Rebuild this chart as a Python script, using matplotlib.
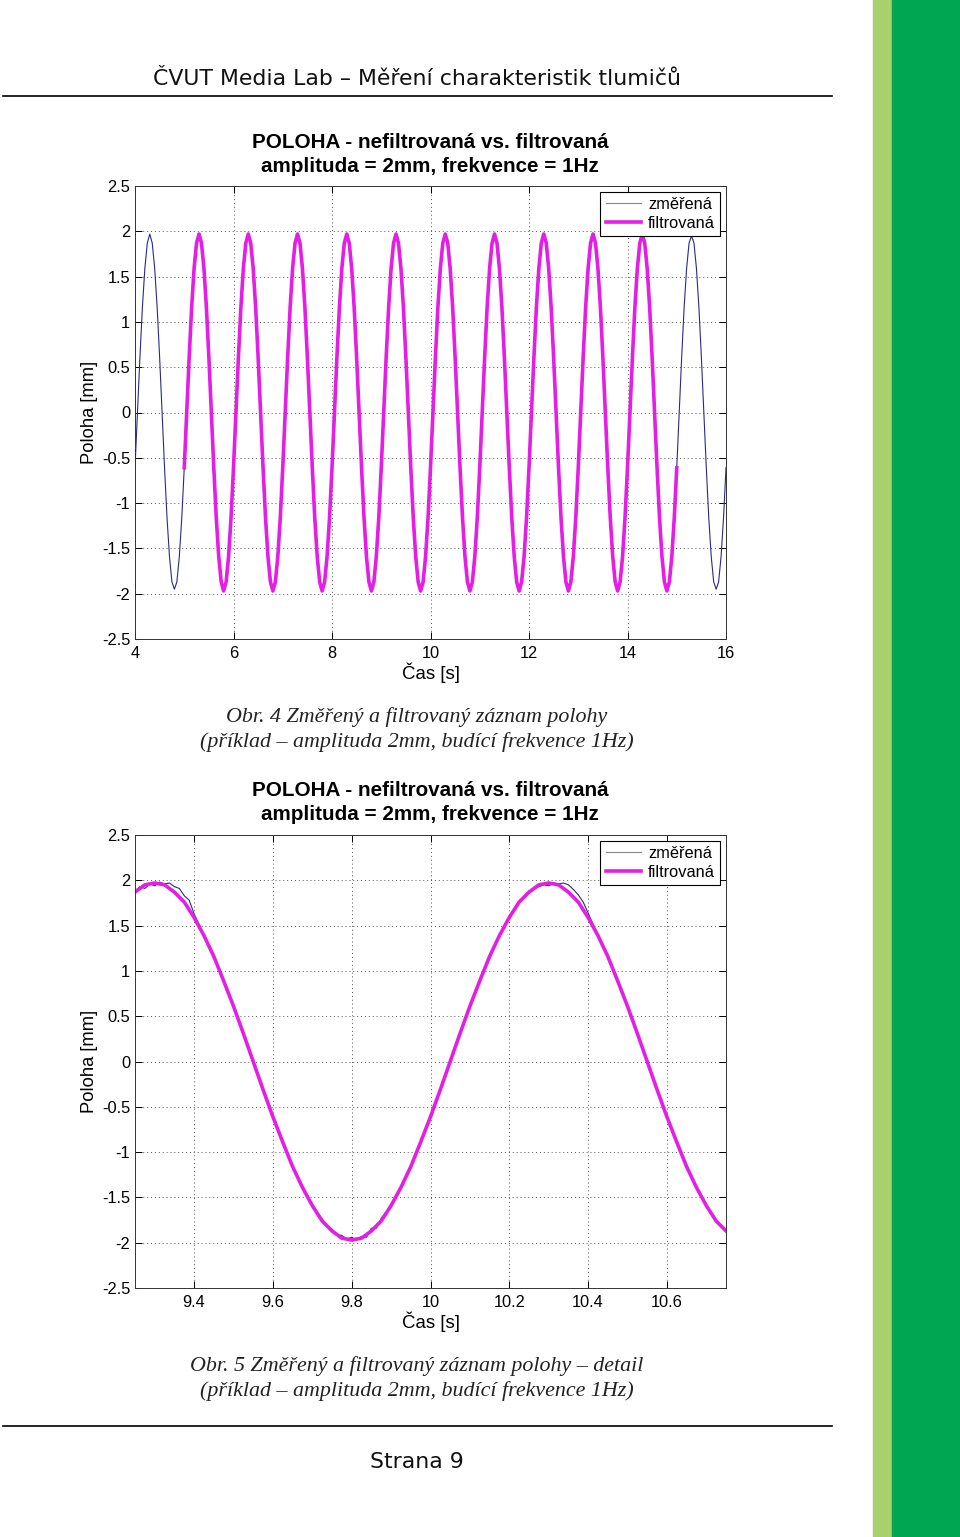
import numpy as np
import matplotlib
matplotlib.use('Agg')
import matplotlib.pyplot as plt

# --- data ---
# Obr. 4: measured position, sampled every 0.05 s from 4.00 s to 16.00 s (one row per second)
poloha_zmerena = [
    -0.61, 0.00, 0.61, 1.16, 1.59, 1.87, 1.97, 1.87, 1.59, 1.16, 0.61, 0.00, -0.61, -1.16, -1.59, -1.87, -1.95, -1.87, -1.59, -1.16,
    -0.61, 0.00, 0.61, 1.16, 1.59, 1.87, 1.97, 1.87, 1.59, 1.16, 0.61, 0.00, -0.61, -1.16, -1.59, -1.87, -1.97, -1.87, -1.59, -1.16,
    -0.61, 0.00, 0.61, 1.16, 1.59, 1.87, 1.97, 1.87, 1.59, 1.16, 0.61, 0.00, -0.61, -1.16, -1.59, -1.87, -1.97, -1.87, -1.59, -1.16,
    -0.61, 0.00, 0.61, 1.16, 1.59, 1.87, 1.97, 1.87, 1.59, 1.16, 0.61, 0.00, -0.61, -1.16, -1.59, -1.87, -1.97, -1.87, -1.59, -1.16,
    -0.61, 0.00, 0.61, 1.16, 1.59, 1.87, 1.97, 1.87, 1.59, 1.16, 0.61, 0.00, -0.61, -1.16, -1.59, -1.87, -1.97, -1.87, -1.59, -1.16,
    -0.61, 0.00, 0.61, 1.16, 1.59, 1.87, 1.97, 1.87, 1.59, 1.16, 0.61, 0.00, -0.61, -1.16, -1.59, -1.87, -1.97, -1.87, -1.59, -1.16,
    -0.61, 0.00, 0.61, 1.16, 1.59, 1.87, 1.97, 1.87, 1.59, 1.16, 0.61, 0.00, -0.61, -1.16, -1.59, -1.87, -1.97, -1.87, -1.59, -1.16,
    -0.61, 0.00, 0.61, 1.16, 1.59, 1.87, 1.97, 1.87, 1.59, 1.16, 0.61, 0.00, -0.61, -1.16, -1.59, -1.87, -1.97, -1.87, -1.59, -1.16,
    -0.61, 0.00, 0.61, 1.16, 1.59, 1.87, 1.97, 1.87, 1.59, 1.16, 0.61, 0.00, -0.61, -1.16, -1.59, -1.87, -1.97, -1.87, -1.59, -1.16,
    -0.61, 0.00, 0.61, 1.16, 1.59, 1.87, 1.97, 1.87, 1.59, 1.16, 0.61, 0.00, -0.61, -1.16, -1.59, -1.87, -1.97, -1.87, -1.59, -1.16,
    -0.61, 0.00, 0.61, 1.16, 1.59, 1.87, 1.97, 1.87, 1.59, 1.16, 0.61, 0.00, -0.61, -1.16, -1.59, -1.87, -1.97, -1.87, -1.59, -1.16,
    -0.61, 0.00, 0.61, 1.16, 1.59, 1.87, 1.95, 1.87, 1.59, 1.16, 0.61, 0.00, -0.61, -1.16, -1.59, -1.87, -1.95, -1.87, -1.59, -1.16,
    -0.61,
]
cas = np.arange(len(poloha_zmerena)) * 0.05 + 4.0
# filtered signal is drawn only between 5.00 s and 15.00 s, where it coincides with the measured one
poloha_filtrovana = poloha_zmerena[20:221]
cas_filtr = cas[20:221]

# Obr. 5: detail, filtered signal every 0.025 s from 9.25 s to 10.75 s
detail_filtrovana = [
    1.87, 1.95, 1.97, 1.95, 1.87, 1.76, 1.59, 1.39, 1.16, 0.89, 0.61, 0.31,
    0.00, -0.31, -0.61, -0.89, -1.16, -1.39, -1.59, -1.76, -1.87, -1.95, -1.97, -1.95,
    -1.87, -1.76, -1.59, -1.39, -1.16, -0.89, -0.61, -0.31, 0.00, 0.31, 0.61, 0.89,
    1.16, 1.39, 1.59, 1.76, 1.87, 1.95, 1.97, 1.95, 1.87, 1.76, 1.59, 1.39,
    1.16, 0.89, 0.61, 0.31, 0.00, -0.31, -0.61, -0.89, -1.16, -1.39, -1.59, -1.76, -1.87,
]
detail_cas = np.arange(len(detail_filtrovana)) * 0.025 + 9.25

# measured signal in the detail (small steps near the extremes)
detail_cas_zmer = [
    9.25, 9.2625, 9.275, 9.2875, 9.30, 9.3125, 9.325, 9.3375, 9.35, 9.3625, 9.375, 9.3875, 9.40,
    9.425, 9.45, 9.475, 9.50, 9.525, 9.55, 9.575, 9.60, 9.625, 9.65, 9.675, 9.70,
    9.725, 9.7375, 9.75, 9.7625, 9.775, 9.7875, 9.80, 9.8125, 9.825, 9.8375, 9.85, 9.8625, 9.875,
    9.90, 9.925, 9.95, 9.975, 10.00, 10.025, 10.05, 10.075, 10.10, 10.125, 10.15, 10.175, 10.20, 10.225,
    10.25, 10.2625, 10.275, 10.2875, 10.30, 10.3125, 10.325, 10.3375, 10.35, 10.3625, 10.375, 10.3875, 10.40,
    10.425, 10.45, 10.475, 10.50, 10.525, 10.55, 10.575, 10.60, 10.625, 10.65, 10.675, 10.70, 10.725, 10.75,
]
detail_zmerena = [
    1.88, 1.93, 1.91, 1.96, 1.94, 1.98, 1.96, 1.97, 1.93, 1.91, 1.83, 1.78, 1.63,
    1.39, 1.16, 0.89, 0.61, 0.31, 0.00, -0.31, -0.61, -0.89, -1.16, -1.39, -1.59,
    -1.74, -1.81, -1.85, -1.91, -1.92, -1.96, -1.94, -1.97, -1.93, -1.94, -1.84, -1.84, -1.73,
    -1.59, -1.39, -1.16, -0.89, -0.61, -0.31, 0.00, 0.31, 0.61, 0.89, 1.16, 1.39, 1.59, 1.76,
    1.86, 1.90, 1.93, 1.95, 1.94, 1.97, 1.96, 1.97, 1.95, 1.90, 1.84, 1.76, 1.64,
    1.39, 1.16, 0.89, 0.61, 0.31, 0.00, -0.31, -0.61, -0.89, -1.16, -1.39, -1.59, -1.76, -1.87,
]

nazev_1 = 'POLOHA - nefiltrovaná vs. filtrovaná'
nazev_2 = 'amplituda = 2mm, frekvence = 1Hz'
legenda = ['změřená', 'filtrovaná']

# --- figure ---
W, H = 960, 1537
fig = plt.figure(figsize=(W / 100, H / 100), dpi=100)
fig.patch.set_facecolor('white')

# green stripes on the right
fig.patches.append(plt.Rectangle((873 / W, 0), 19 / W, 1, transform=fig.transFigure,
                                 color='#a8d06c', zorder=0))
fig.patches.append(plt.Rectangle((892 / W, 0), 68 / W, 1, transform=fig.transFigure,
                                 color='#00a651', zorder=0))

# header and footer
fig.text(417 / W, 1 - 79 / H, 'ČVUT Media Lab – Měření charakteristik tlumičů',
         ha='center', va='center', fontsize=15.8, family='DejaVu Sans', color='#111111')
fig.add_artist(plt.Line2D([3 / W, 832 / W], [1 - 96 / H, 1 - 96 / H], color='black', lw=1.2))
fig.add_artist(plt.Line2D([3 / W, 832 / W], [1 - 1426 / H, 1 - 1426 / H], color='black', lw=1.2))
fig.text(417 / W, 1 - 1462 / H, 'Strana 9', ha='center', va='center', fontsize=15.8,
         family='DejaVu Sans', color='#111111')

cap_font = dict(family='Liberation Serif', style='italic', fontsize=15.8, color='#222222',
                ha='center', va='center')
fig.text(417 / W, 1 - 717 / H, 'Obr. 4 Změřený a filtrovaný záznam polohy', **cap_font)
fig.text(417 / W, 1 - 742 / H, '(příklad – amplituda 2mm, budící frekvence 1Hz)', **cap_font)
fig.text(417 / W, 1 - 1366 / H, 'Obr. 5 Změřený a filtrovaný záznam polohy – detail', **cap_font)
fig.text(417 / W, 1 - 1391 / H, '(příklad – amplituda 2mm, budící frekvence 1Hz)', **cap_font)

modra = '#2a2a8a'
magenta = '#e41ee4'


def graf(top_px, x_zm, y_zm, x_f, y_f, xlim, xticks, xlabels):
    ax = fig.add_axes([135 / W, 1 - (top_px + 453) / H, 591 / W, 453 / H])
    ax.plot(x_zm, y_zm, color=modra, lw=0.8, label=legenda[0])
    ax.plot(x_f, y_f, color=magenta, lw=2.6, label=legenda[1])
    ax.set_xlim(*xlim)
    ax.set_ylim(-2.5, 2.5)
    ax.set_xticks(xticks)
    ax.set_xticklabels(xlabels)
    ax.set_yticks(np.arange(-2.5, 2.51, 0.5))
    ax.set_yticklabels(['-2.5', '-2', '-1.5', '-1', '-0.5', '0', '0.5', '1', '1.5', '2', '2.5'])
    ax.grid(True, linestyle=(0, (1, 3)), color='#555555', lw=0.7)
    ax.tick_params(direction='in', top=True, right=True, length=5, width=0.7,
                   labelsize=11.8, pad=3.5)
    ax.tick_params(axis='x', pad=5)
    for lab in ax.get_xticklabels() + ax.get_yticklabels():
        lab.set_family('Liberation Sans')
    for s in ax.spines.values():
        s.set_linewidth(0.7)
        s.set_color('#333333')
    ax.set_xlabel('Čas [s]', family='Liberation Sans', fontsize=13.4, labelpad=1)
    ax.set_ylabel('Poloha [mm]', family='Liberation Sans', fontsize=13.2, labelpad=3)
    fig.text(430 / W, 1 - (top_px - 44) / H, nazev_1, ha='center', va='center',
             family='Liberation Sans', weight='bold', fontsize=14.9)
    fig.text(430 / W, 1 - (top_px - 20) / H, nazev_2, ha='center', va='center',
             family='Liberation Sans', weight='bold', fontsize=14.9)
    leg = ax.legend(loc='upper right', fancybox=False, framealpha=1, edgecolor='black',
                    prop={'family': 'Liberation Sans', 'size': 11.8}, handlelength=2.15,
                    borderpad=0.33, labelspacing=0.22, handletextpad=0.42,
                    borderaxespad=0.35)
    leg.get_frame().set_linewidth(0.8)
    leg.get_lines()[0].set_color('#888888')
    return ax


graf(186, cas, poloha_zmerena, cas_filtr, poloha_filtrovana, (4, 16),
     [4, 6, 8, 10, 12, 14, 16], ['4', '6', '8', '10', '12', '14', '16'])
graf(835, detail_cas_zmer, detail_zmerena, detail_cas, detail_filtrovana, (9.25, 10.75),
     [9.4, 9.6, 9.8, 10.0, 10.2, 10.4, 10.6], ['9.4', '9.6', '9.8', '10', '10.2', '10.4', '10.6'])

fig.savefig('out.png', dpi=100, facecolor='white')
